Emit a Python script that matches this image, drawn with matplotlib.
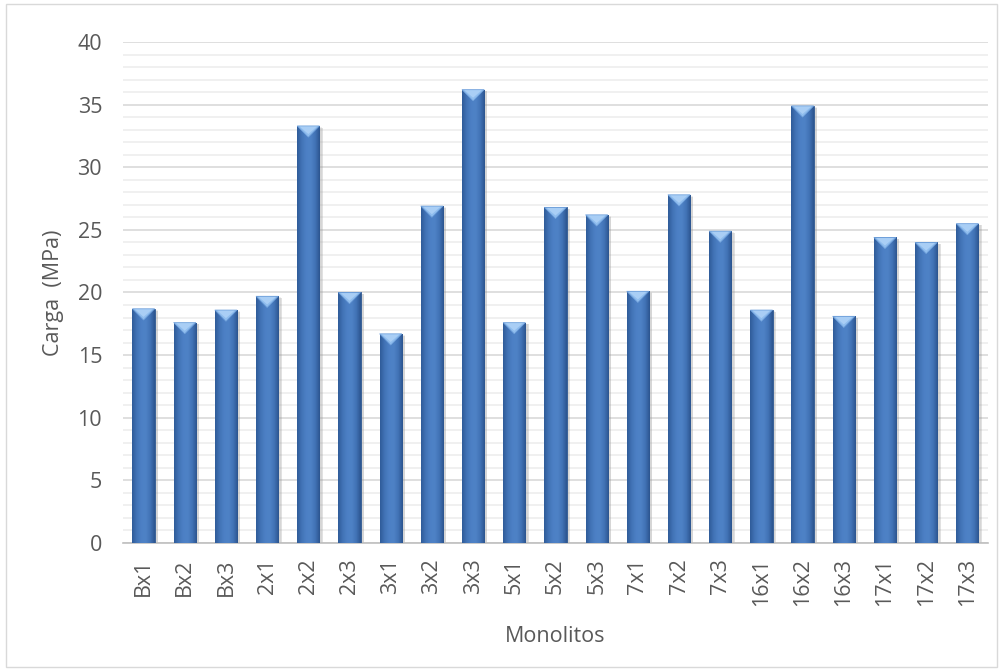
import numpy as np
import matplotlib
matplotlib.use('Agg')
import matplotlib.pyplot as plt
from matplotlib.colors import LinearSegmentedColormap
from matplotlib.patches import Polygon, Rectangle

monolitos = ['Bx1', 'Bx2', 'Bx3', '2x1', '2x2', '2x3', '3x1', '3x2', '3x3', '5x1', '5x2',
             '5x3', '7x1', '7x2', '7x3', '16x1', '16x2', '16x3', '17x1', '17x2', '17x3']
carga = [18.7, 17.6, 18.6, 19.7, 33.3, 20.0, 16.7, 26.9, 36.2, 17.6, 26.8,
         26.2, 20.1, 27.8, 24.9, 18.6, 34.9, 18.1, 24.4, 24.0, 25.5]

plt.rcParams['font.family'] = ['Open Sans', 'DejaVu Sans']
txt = '#595959'
fs = 15.5

fig = plt.figure(figsize=(10.03, 6.71), dpi=100)
ax = fig.add_axes([0.1226, 0.1908, 0.8624, 0.7466])

# outer chart border
fig.patches.append(Rectangle((0.006, 0.006), 0.988, 0.988, transform=fig.transFigure,
                             fill=False, edgecolor='#D9D9D9', lw=1.0))

x = np.arange(len(monolitos))
w = 0.54
grad = LinearSegmentedColormap.from_list('bev', ['#2F5C99', '#4273B6', '#4C80C5', '#4E82C6', '#4273B6', '#2C5590'])
g = np.linspace(0, 1, 64).reshape(1, -1)

# soft shadow
ax.bar(x + 0.08, carga, width=w, bottom=-0.15, color='#8A8A8A', alpha=0.25, zorder=2, lw=0)
ax.bar(x + 0.04, carga, width=w + 0.06, bottom=-0.1, color='#9A9A9A', alpha=0.15, zorder=2, lw=0)

bars = ax.bar(x, carga, width=w, color='#4A7DC0', edgecolor='#2E5790', lw=0.6, zorder=3)
for b, xi, h in zip(bars, x, carga):
    im = ax.imshow(g, cmap=grad, extent=[xi - w / 2, xi + w / 2, 0, h], aspect='auto', zorder=3.5)
    im.set_clip_path(b)
    d = 0.9
    tri = Polygon([[xi - w / 2, h], [xi + w / 2, h], [xi, h - d]], closed=True,
                  facecolor='#8FBDEE', edgecolor='#6E9FDA', lw=0.5, zorder=4)
    ax.add_patch(tri)
    tri2 = Polygon([[xi - w / 2 + 0.06, h - 0.05], [xi + w / 2 - 0.06, h - 0.05], [xi, h - d + 0.25]],
                   closed=True, facecolor='#A9CEF5', lw=0, zorder=4.1)
    ax.add_patch(tri2)

ax.set_xlim(-0.5, len(monolitos) - 0.5)
ax.set_ylim(0, 40)
ax.set_yticks(np.arange(0, 41, 5))
ax.set_yticks(np.arange(0, 41, 1), minor=True)
ax.yaxis.grid(True, which='major', color='#D9D9D9', lw=1.2, zorder=0)
ax.yaxis.grid(True, which='minor', color='#EDEDED', lw=1.2, zorder=0)
ax.set_axisbelow(True)
ax.set_xticks(x)
ax.set_xticklabels(monolitos, rotation=90, fontsize=fs, color=txt)
ax.tick_params(axis='y', which='both', length=0, pad=15, labelsize=fs, labelcolor=txt)
ax.tick_params(axis='x', length=0, pad=11)
for s in ['top', 'right', 'left']:
    ax.spines[s].set_visible(False)
ax.spines['bottom'].set_color('#BFBFBF')
ax.spines['bottom'].set_linewidth(1.2)

ax.set_xlabel('Monolitos', fontsize=fs, color=txt, labelpad=14)
ax.set_ylabel('Carga  (MPa)', fontsize=fs, color=txt, labelpad=10)

fig.savefig('out.png', dpi=100)
